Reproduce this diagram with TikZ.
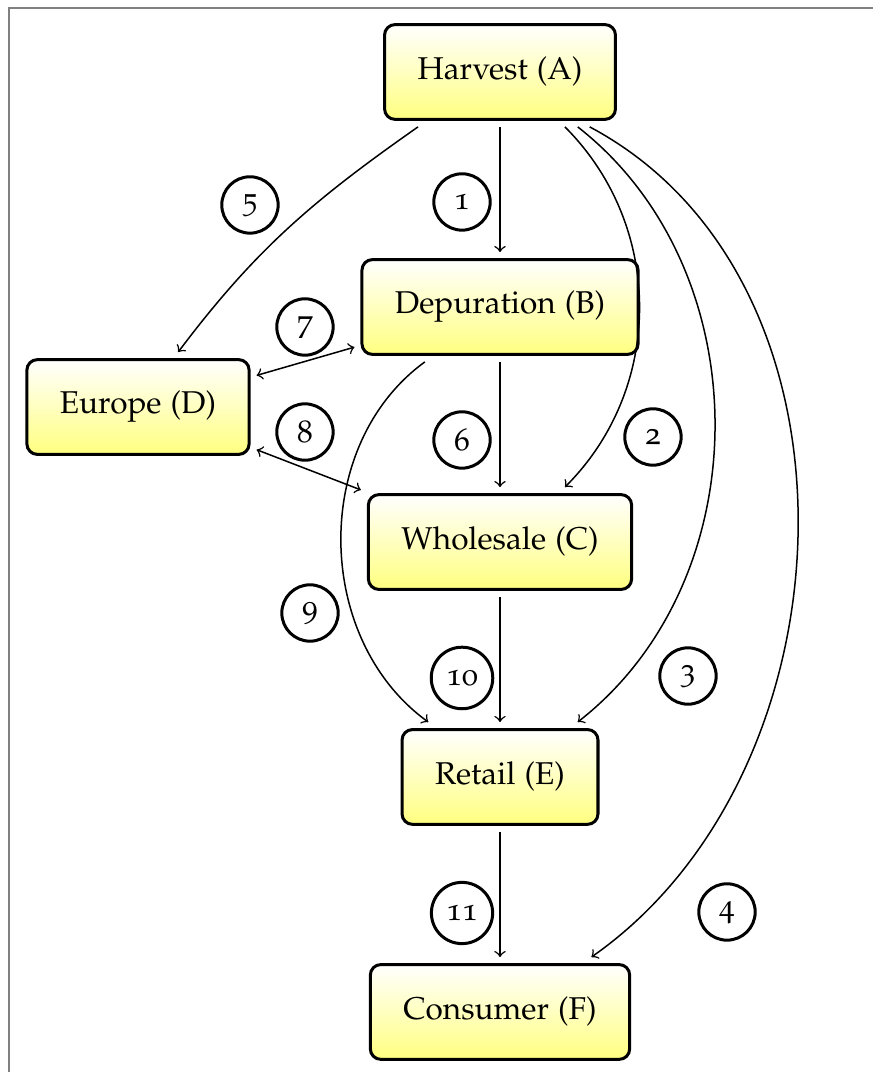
\documentclass[tikz,border=0pt]{standalone}
\usepackage[T1]{fontenc}
\usepackage[osf]{mathpazo}
\usetikzlibrary{arrows}

\newcommand{\MidX}{5.855}
\newcommand{\SideX}{1.616}

\begin{document}
\begin{tikzpicture}[
  stage/.style={draw,line width=1pt,rounded corners=3.5pt,top color=white,bottom color=yellow!50,
    inner xsep=11pt,minimum height=1.11cm,outer sep=2.5pt,font=\fontsize{10.5}{12}\selectfont},
  flow/.style={->,line width=0.5pt},
  tag/.style={draw,line width=1pt,circle,minimum size=0.66cm,inner sep=3.2pt,font=\fontsize{10.5}{12}\selectfont}
  ]
  \useasboundingbox (0,0) rectangle (10.222,-12.553);

	%draw the frame
	\draw[gray,line width=0.7pt] (0.105,-12.553) -- (0.105,-0.094) -- (10.222,-0.094);

	%draw the stages
	\node[stage] (A) at (\MidX,-0.843) {Harvest (A)};
	\node[stage] (B) at (\MidX,-3.595) {Depuration (B)};
	\node[stage] (D) at (\SideX,-4.766) {Europe (D)};
	\node[stage] (C) at (\MidX,-6.347) {Wholesale (C)};
	\node[stage] (E) at (\MidX,-9.098) {Retail (E)};
	\node[stage] (F) at (\MidX,-11.850) {Consumer (F)};

	%draw the flows
	\draw[flow] (A) -- (B);
	\draw[flow] ([xshift=0.76cm]A.south) to[out=-45,in=45] ([xshift=0.76cm]C.north);
	\draw[flow] ([xshift=0.91cm]A.south) to[out=-38,in=38] ([xshift=0.91cm]E.north);
	\draw[flow] ([xshift=1.05cm]A.south) to[out=-28,in=35] ([xshift=1.07cm]F.north);
	\draw[flow] ([xshift=-0.96cm]A.south) to[out=215,in=53] ([xshift=0.47cm]D.north);
	\draw[flow] (B) -- (C);
	\draw[flow,<->] ([yshift=0.37cm]D.east) -- ([yshift=-0.47cm]B.west);
	\draw[flow,<->] ([yshift=-0.5cm]D.east) -- ([yshift=0.61cm]C.west);
	\draw[flow] ([xshift=-0.88cm]B.south) to[out=216,in=144] ([xshift=-0.84cm]E.north);
	\draw[flow] (C) -- (E);
	\draw[flow] (E) -- (F);

	%draw the flow numbers
	\node[tag] (n1) at (5.410,-2.365) {1};
	\node[tag] (n2) at (7.646,-5.117) {2};
	\node[tag] (n3) at (8.056,-7.916) {3};
	\node[tag] (n4) at (8.513,-10.679) {4};
	\node[tag] (n5) at (2.927,-2.400) {5};
	\node[tag] (n6) at (5.410,-5.152) {6};
	\node[tag] (n7) at (3.571,-3.829) {7};
	\node[tag] (n8) at (3.571,-5.059) {8};
	\node[tag] (n9) at (3.630,-7.178) {9};
	\node[tag] (n10) at (5.410,-7.939) {10};
	\node[tag] (n11) at (5.410,-10.691) {11};

\end{tikzpicture}
\end{document}
